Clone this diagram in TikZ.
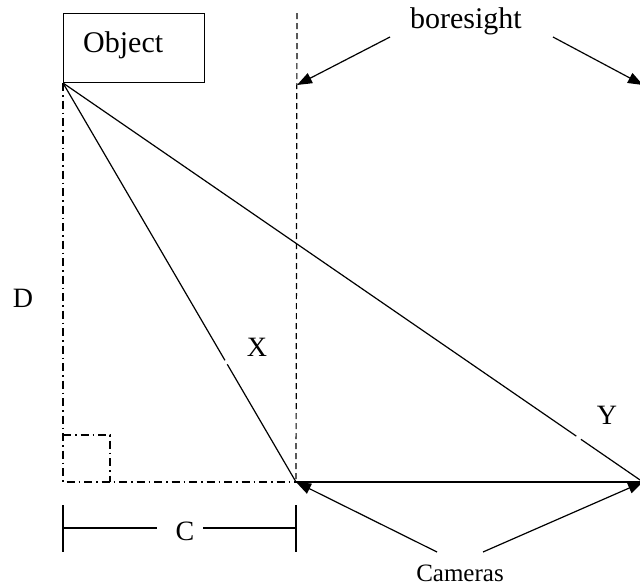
\documentclass[tikz,border=0pt]{standalone}
\usepackage{fontspec}
\setmainfont{Liberation Serif}
\usetikzlibrary{arrows.meta,calc}
\begin{document}
\begin{tikzpicture}[x=1pt,y=-1pt,
  every node/.style={inner sep=0pt},
  ln/.style={line width=1.2pt},
  dashdotline/.style={line width=1.2pt, dash pattern=on 8pt off 4pt on 1.5pt off 4pt},
  dashline/.style={line width=1.2pt, dash pattern=on 6pt off 4pt},
  arr/.style={line width=1.2pt, -{Triangle[length=15pt,width=11pt]}},
  lab/.style={font=\fontsize{28}{32}\selectfont},
  biglab/.style={font=\fontsize{30}{34}\selectfont},
  smalllab/.style={font=\fontsize{25}{30}\selectfont}]
\useasboundingbox (0,0) rectangle (640,587);
% points
\coordinate (apex) at (63,83);
\coordinate (corner) at (63,482);
\coordinate (cam1) at (296,482);
\coordinate (cam2) at (643,482);
\coordinate (bstop) at (297,13);
\coordinate (bsl) at (390,37);
\coordinate (bsr) at (553,37);
\coordinate (bstipl) at (297,85);
\coordinate (bstipr) at (643,85);
\coordinate (caml) at (437,552);
\coordinate (camr) at (483,552);
% object box
\node[draw, line width=1.2pt, minimum width=141pt, minimum height=69pt, anchor=south west] (obj) at (apex) {};
\node[biglab, anchor=west] (objtext) at (83,45) {Object};
% construction lines
\draw[dashdotline] (apex) -- (corner) -- (cam1);
\draw[dashdotline] (63,435) -- (110,435) -- (110,482);
\draw[dashline] (bstop) -- (cam1);
% triangle sides (with small breaks)
\draw[ln] (apex) -- ($(apex)!0.695!(cam1)$);
\draw[ln] ($(apex)!0.705!(cam1)$) -- (cam1);
\draw[ln] (apex) -- ($(apex)!0.885!(cam2)$);
\draw[ln] ($(apex)!0.893!(cam2)$) -- (cam2);
\draw[ln] (cam1) -- (cam2);
% labels
\node[lab] (D) at (23,298) {D};
\node[lab] (X) at (257,347) {X};
\node[lab] (Y) at (607,415) {Y};
% C dimension
\node[lab] (C) at (185,531) {C};
\draw[ln] (63,505) -- (63,552);
\draw[ln] (296,505) -- (296,552);
\draw[ln] (63,528) -- (157,528);
\draw[ln] (203,528) -- (296,528);
% boresight
\node[biglab] (bs) at (466,21) {boresight};
\draw[arr] (bsl) -- (bstipl);
\draw[arr] (bsr) -- (bstipr);
% cameras
\node[smalllab] (cams) at (460,573) {Cameras};
\draw[arr] (caml) -- (cam1);
\draw[arr] (camr) -- (cam2);
\end{tikzpicture}
\end{document}
